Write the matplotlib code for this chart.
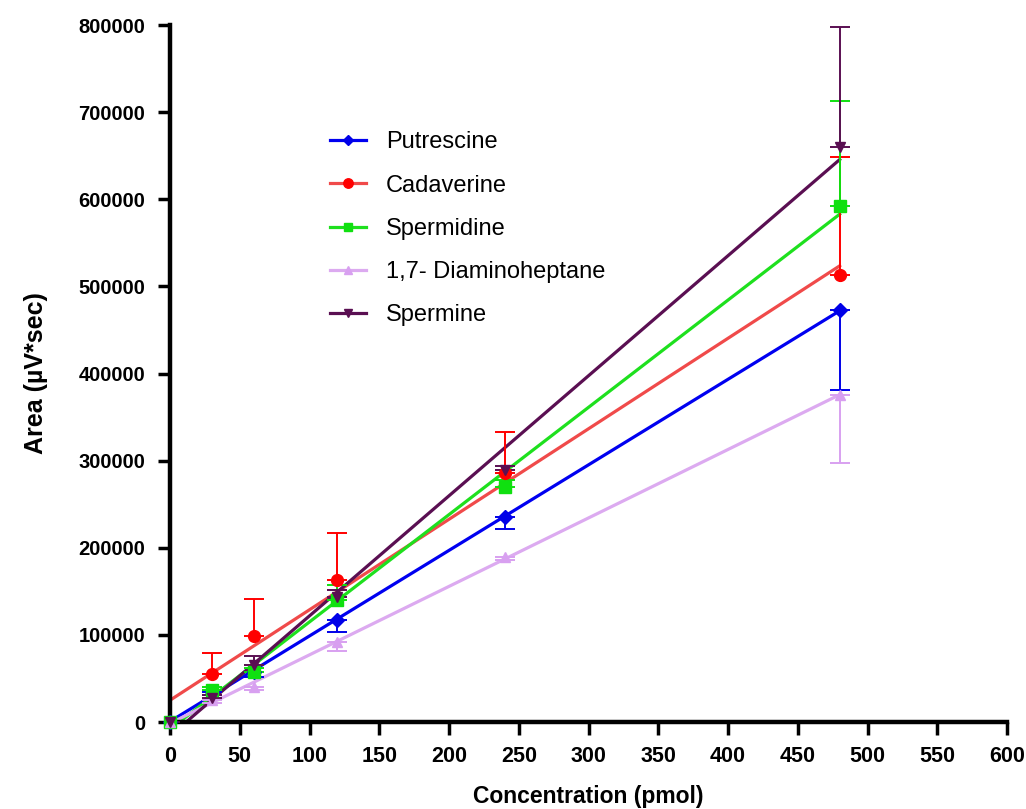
import matplotlib as mpl
mpl.use('Agg')
import matplotlib.pyplot as plt
import numpy as np

plt.rcParams['font.family'] = ['Liberation Sans', 'DejaVu Sans']

conc = np.array([0, 30, 60, 120, 240, 480])

series = ['Putrescine', 'Cadaverine', 'Spermidine', '1,7- Diaminoheptane', 'Spermine']
putrescine = [0, 35000, 57000, 117000, 235000, 473000]
cadaverine = [0, 55000, 99000, 163000, 286000, 513000]
spermidine = [0, 37000, 57000, 140000, 270000, 592000]
diaminoheptane = [0, 25000, 40000, 92000, 190000, 375000]
spermine = [0, 28000, 66000, 143000, 289000, 660000]

# error bars (one-sided, as in the original)
err_putrescine = [0, 4000, 5000, 14000, 13000, 92000]      # below
err_cadaverine = [0, 24000, 42000, 54000, 47000, 136000]   # above
err_spermidine = [0, 3000, 5000, 17000, 8000, 121000]      # above
err_diamino = [0, 3000, 3000, 10000, 4000, 78000]          # below
err_spermine = [0, 3000, 10000, 8000, 5000, 138000]        # above

values = [putrescine, cadaverine, spermidine, diaminoheptane, spermine]
errors = [err_putrescine, err_cadaverine, err_spermidine, err_diamino, err_spermine]
err_up = [False, True, True, False, True]

line_cols = ['#0000F0', '#F04A4A', '#1EE01E', '#DCAAF0', '#5A0F52']
mark_cols = ['#0000E8', '#FF0000', '#10E010', '#D8A0F0', '#5A0F52']
markers = ['D', 'o', 's', '^', 'v']
msizes = [7, 8.5, 8, 7.5, 7.5]

fig = plt.figure(figsize=(10.26, 8.09), dpi=100)
ax = fig.add_axes([0.1657, 0.1075, 0.8158, 0.8615])

xfit = np.array([0, 480])
for name, y, e, up, lc, mc, m, ms in zip(series, values, errors, err_up,
                                         line_cols, mark_cols, markers, msizes):
    y = np.array(y, dtype=float)
    e = np.array(e, dtype=float)
    yerr = [np.zeros_like(e), e] if up else [e, np.zeros_like(e)]
    k, b = np.polyfit(conc, y, 1)
    ax.plot(xfit, k * xfit + b, '-', color=lc, linewidth=2.3, zorder=2)
    ax.errorbar(conc, y, yerr=yerr, fmt='none', ecolor=mc, elinewidth=1.4,
                capsize=7, capthick=1.4, zorder=3)
    ax.plot(conc, y, linestyle='none', marker=m, markersize=ms, color=mc,
            zorder=4, clip_on=False)
    ax.plot([], [], '-', color=lc, linewidth=2.3, marker=m, markersize=ms * 0.8,
            markerfacecolor=mc, markeredgecolor=mc, label=name)

ax.set_xlim(0, 600)
ax.set_ylim(0, 800000)
ax.set_xticks(np.arange(0, 601, 50))
ax.set_yticks(np.arange(0, 800001, 100000))

for s in ['top', 'right']:
    ax.spines[s].set_visible(False)
for s in ['left', 'bottom']:
    ax.spines[s].set_linewidth(3.2)
ax.tick_params(axis='both', width=2.5, length=9, direction='out')
ax.tick_params(axis='x', pad=8)
ax.tick_params(axis='y', pad=9)

for lab in ax.get_xticklabels():
    lab.set_fontweight('bold')
    lab.set_fontsize(15.5)
for lab in ax.get_yticklabels():
    lab.set_fontweight('bold')
    lab.set_fontsize(14.5)

ax.set_xlabel('Concentration (pmol)', fontweight='bold', fontsize=16.5, labelpad=13)
ax.set_ylabel('Area (µV*sec)', fontweight='bold', fontsize=18, labelpad=22)

ax.legend(loc='upper left', bbox_to_anchor=(0.166, 0.878), frameon=False,
          fontsize=17, handlelength=1.5, labelspacing=0.9, handletextpad=0.85)

plt.savefig('out.png', dpi=100)
